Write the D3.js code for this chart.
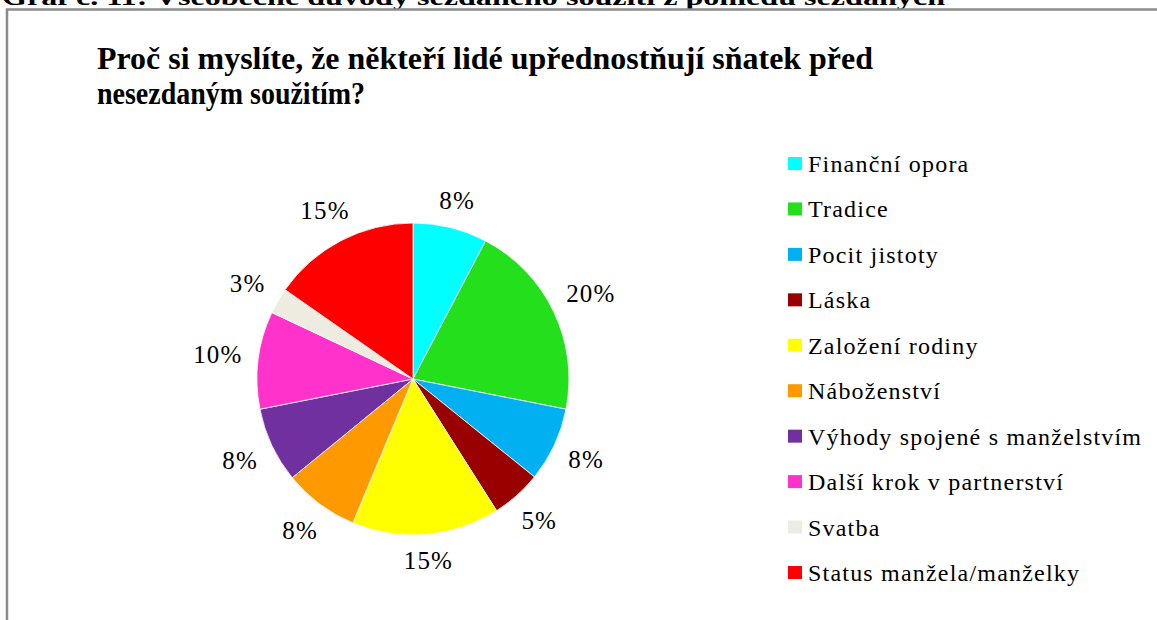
<!DOCTYPE html>
<html>
<head>
<meta charset="utf-8">
<script src="https://cdn.jsdelivr.net/npm/d3@7"></script>
<style>
  body { margin: 0; background: #fff; }
  svg { display: block; font-family: "Liberation Serif", "Times New Roman", serif; }
</style>
</head>
<body>
<svg width="1157" height="620"></svg>
<script>
// Data
const categories = ["Finanční opora", "Tradice", "Pocit jistoty", "Láska", "Založení rodiny",
    "Náboženství", "Výhody spojené s manželstvím", "Další krok v partnerství", "Svatba", "Status manžela/manželky"];
const values = [7.7, 20.4, 7.7, 5.2, 15.3, 7.8, 7.8, 10.1, 2.7, 15.3];
const colors = ["#00FFFF", "#24DF1C", "#00B0F0", "#990000", "#FFFF00",
    "#FF9900", "#7030A0", "#FF33CC", "#EEECE1", "#FF0000"];
const caption = "Graf č. 11: Všeobecné důvody sezdaného soužití z pohledu sezdaných";
const titleLines = ["Proč si myslíte, že někteří lidé upřednostňují sňatek před", "nesezdaným soužitím?"];

const data = categories.map((c, i) => ({name: c, value: values[i]}));

const svg = d3.select("svg");

// Document caption, cut off at the top edge
svg.append("text")
    .attr("x", 2)
    .attr("y", 5)
    .attr("font-size", 24)
    .attr("font-weight", "bold")
    .attr("textLength", 943)
    .attr("lengthAdjust", "spacingAndGlyphs")
    .text(caption);

// Chart frame (top and left edges visible)
svg.append("path")
    .attr("d", "M7,620 V9.5 H1157")
    .attr("fill", "none")
    .attr("stroke", "#8c8c8c")
    .attr("stroke-width", 2.5);

// Title
const titleWidths = [776, 268];
svg.selectAll(".title")
    .data(titleLines)
  .enter().append("text")
    .attr("class", "title")
    .attr("x", 97)
    .attr("y", (d, i) => 69 + i * 35)
    .attr("font-size", 32)
    .attr("font-weight", "bold")
    .attr("textLength", (d, i) => titleWidths[i])
    .attr("lengthAdjust", "spacingAndGlyphs")
    .text(d => d);

// Pie
const cx = 413, cy = 379, radius = 156;
const color = d3.scaleOrdinal().domain(categories).range(colors);
const pie = d3.pie().value(d => d.value).sort(null);
const arc = d3.arc().innerRadius(0).outerRadius(radius);
const arcs = pie(data);

const g = svg.append("g").attr("transform", `translate(${cx},${cy})`);

g.selectAll(".slice")
    .data(arcs)
  .enter().append("path")
    .attr("class", "slice")
    .attr("d", arc)
    .attr("fill", d => color(d.data.name))
    .attr("stroke", "#fff")
    .attr("stroke-width", 0.8);

// Percent labels outside the slices
const labels = g.selectAll(".label")
    .data(arcs)
  .enter().append("text")
    .attr("class", "label")
    .attr("font-size", 25)
    .attr("letter-spacing", 1.2)
    .attr("text-anchor", "middle")
    .attr("dominant-baseline", "central")
    .text(d => Math.round(d.data.value) + "%");

labels.each(function(d) {
    const w = this.getComputedTextLength();
    const h = 18;
    const a = (d.startAngle + d.endAngle) / 2;
    const s = Math.sin(a), c = -Math.cos(a);
    const r = radius + 15 + Math.abs(s) * w / 2 + Math.abs(c) * h / 2;
    d3.select(this).attr("x", s * r).attr("y", c * r);
});

// Legend
const legend = svg.append("g").attr("transform", "translate(788,164)");
const rowY = d3.scalePoint().domain(categories).range([0, 409]);

const rows = legend.selectAll(".row")
    .data(categories)
  .enter().append("g")
    .attr("class", "row")
    .attr("transform", d => `translate(0,${rowY(d)})`);

rows.append("rect")
    .attr("x", 0)
    .attr("y", -7)
    .attr("width", 14)
    .attr("height", 13)
    .attr("fill", d => color(d));

rows.append("text")
    .attr("x", 20)
    .attr("y", 0)
    .attr("dominant-baseline", "central")
    .attr("font-size", 24)
    .attr("letter-spacing", 1.2)
    .text(d => d);
</script>
</body>
</html>
